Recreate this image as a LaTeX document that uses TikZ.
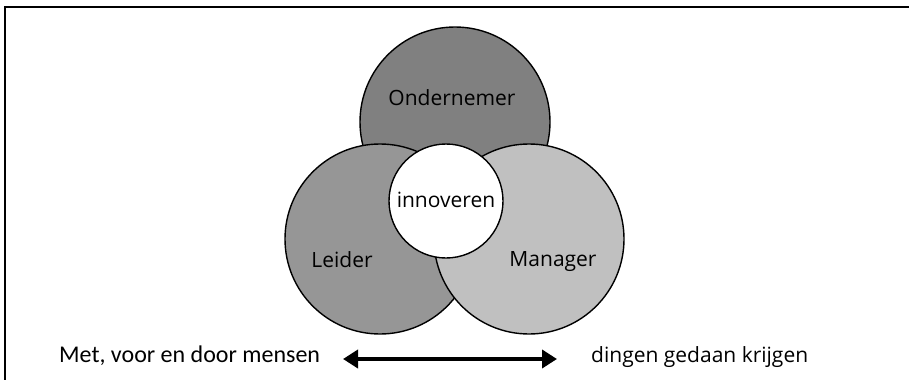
\documentclass[tikz,border=0pt]{standalone}
\usepackage{fontspec}
\setmainfont{Open Sans}
\newfontfamily\calfont{Carlito}
\usetikzlibrary{arrows.meta}
\definecolor{darkgrey}{HTML}{808080}
\definecolor{midgrey}{HTML}{969696}
\definecolor{lightgrey}{HTML}{C0C0C0}

\begin{document}
\begin{tikzpicture}[x=1pt, y=-1pt,
  role/.style={draw=black, line width=1.4pt, circle, minimum size=190pt, inner sep=0pt},
  lbl/.style={font=\fontsize{21}{21}\selectfont, inner sep=0pt},
  side/.style={font=\fontsize{21}{21}\selectfont, inner sep=0pt, anchor=base west}]
              \useasboundingbox (0,0) rectangle (909,380);
              \draw[line width=1.6pt] (909,7) -- (5,7) -- (5,380);

              \node [role, fill=darkgrey] at (455,122) (ond) {};
              \node [role, fill=midgrey] at (380,239) (lei) {};
              \node [role, fill=lightgrey] at (529,239) (man) {};
              \node [role, fill=white, minimum size=114pt] at (446,201) (inn) {};

              \node [lbl] at (452,98) (tond) {Ondernemer};
              \node [lbl] at (446,200) (tinn) {innoveren};
              \node [lbl] at (342,260) (tlei) {Leider};
              \node [lbl] at (553,262) (tman) {Manager};

              \node [side, font=\calfont\fontsize{24}{24}\selectfont] at (59,362) (mens) {Met, voor en door mensen};
              \node [side] at (591,362) (ding) {dingen gedaan krijgen};

              \coordinate (arrL) at (343,359);
              \coordinate (arrR) at (557,359);
              \draw [line width=4.5pt, {Triangle[length=15pt,width=18pt]}-{Triangle[length=15pt,width=18pt]}] (arrL) -- (arrR);
\end{tikzpicture}
\end{document}
